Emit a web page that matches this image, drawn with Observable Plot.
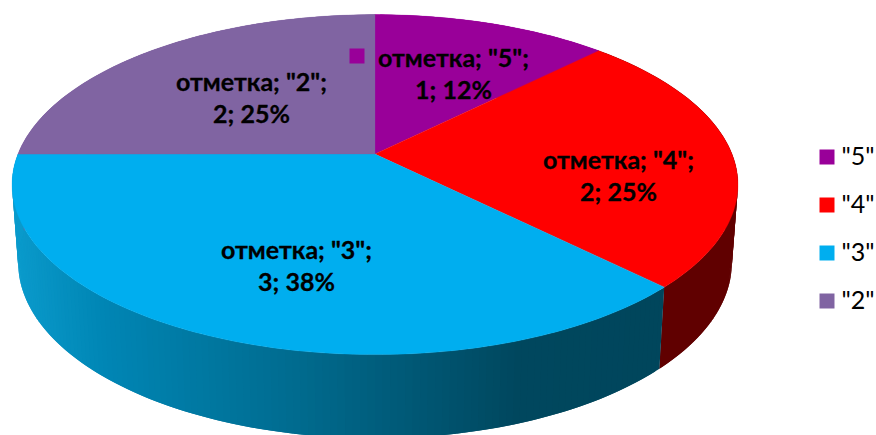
<!DOCTYPE html>
<html>
<head>
<meta charset="utf-8">
<script src="https://cdn.jsdelivr.net/npm/d3@7"></script>
<script src="https://cdn.jsdelivr.net/npm/@observablehq/plot@0.6"></script>
<style>html,body{margin:0;padding:0;background:#fff;overflow:hidden}svg{display:block}</style>
</head>
<body>
<div id="chart"></div>
<script>
// Data
const categories = ['"5"', '"4"', '"3"', '"2"'];
const counts = [1, 2, 3, 2];
const percents = ["12%", "25%", "38%", "25%"];
const seriesName = "отметка";

// Styles
const faceColors = ["#990099", "#FF0000", "#00AEEF", "#8064A2"];
const wallRed = "#600000";
const wallBlue = d3.scaleLinear()
  .domain([15, 100, 290, 400, 520, 660])
  .range(["#0A9ACB", "#0086B5", "#006C90", "#005A78", "#00475E", "#00465C"]);

// Layout: perspective disc, in page pixels
const W = 876, H = 435;
const topRim = {cx: 375, cy: 154, a: 357, b: 164.5, k: 0.18};
const lowRim = {cx: 375, cy: 231, a: 351, b: 170, k: 0.18};
const labelAt = [[453, 72], [618, 174], [296, 264], [251, 96]];
const keyAt = [[356.5, 55.5], [524, 159], [200, 247.5], [154.5, 77.5]];
const legendX = 826.5, legendTextX = 841, legendY = 156.5, legendStep = 48;

const project = (rim, angle, r = 1) => {
  const u = r * Math.sin(angle), v = r * Math.cos(angle);
  const w = 1 + rim.k * v;
  return [rim.cx + rim.a * u / w, rim.cy - rim.b * v / w];
};

const arcs = d3.pie().sort(null).startAngle(0).endAngle(2 * Math.PI)(counts);
const step = Math.PI / 180;

// Top-face wedges: each row spans the centre and a rim point
const faceRows = arcs.flatMap((arc, i) =>
  d3.range(arc.startAngle, arc.endAngle + step * 0.99, step).map(t => {
    const [x2, y2] = project(topRim, Math.min(t, arc.endAngle));
    return {slice: i, x1: topRim.cx, y1: topRim.cy, x2, y2, fill: faceColors[i]};
  })
);

// Wall strips: each strip overlaps the next so no seams show
const wallRows = [];
arcs.forEach((arc, i) => {
  d3.range(arc.startAngle, arc.endAngle, step).forEach((t, n) => {
    const [mx] = project(topRim, t + step / 2);
    const fill = i === 2 ? wallBlue(mx) : i === 1 ? wallRed : faceColors[i];
    for (const a of [t, Math.min(t + 2 * step, arc.endAngle)]) {
      const [x1, y1] = project(topRim, a);
      const [x2, y2] = project(lowRim, a);
      wallRows.push({strip: `${i}-${n}`, x1, y1, x2, y2, fill});
    }
  });
});

const labels = categories.map((c, i) => ({
  text: `${seriesName}; ${c};\n${counts[i]}; ${percents[i]}`,
  x: labelAt[i][0], y: labelAt[i][1]
}));
const keys = categories.map((c, i) => ({x: keyAt[i][0], y: keyAt[i][1], fill: faceColors[i]}));
const legend = categories.map((c, i) => ({
  label: c, y: legendY + i * legendStep, fill: faceColors[i]
}));

const squareR = 15 / Math.sqrt(Math.PI);

const plot = Plot.plot({
  width: W, height: H,
  margin: 0,
  style: {background: "#fff", overflow: "hidden"},
  x: {domain: [0, W], range: [0, W], axis: null},
  y: {domain: [0, H], range: [0, H], axis: null},
  color: {type: "identity"},
  r: {type: "identity"},
  marks: [
    Plot.area(wallRows, {x1: "x1", y1: "y1", x2: "x2", y2: "y2", z: "strip", fill: "fill"}),
    Plot.area(faceRows, {x1: "x1", y1: "y1", x2: "x2", y2: "y2", z: "slice", fill: "fill", stroke: "fill", strokeWidth: 0.3}),
    Plot.dot(keys, {x: "x", y: "y", fill: "fill", symbol: "square", r: squareR}),
    Plot.text(labels, {x: "x", y: "y", text: "text", fontFamily: "Lato", fontWeight: 700, fontSize: 25, lineHeight: 1.3, fill: "#000", stroke: "#000", strokeWidth: 0.3}),
    Plot.dot(legend, {x: legendX, y: "y", fill: "fill", symbol: "square", r: squareR}),
    Plot.text(legend, {x: legendTextX, y: "y", text: "label", textAnchor: "start", fontFamily: "Lato", fontSize: 25, fill: "#000"})
  ]
});
document.getElementById("chart").appendChild(plot);
</script>
</body>
</html>
